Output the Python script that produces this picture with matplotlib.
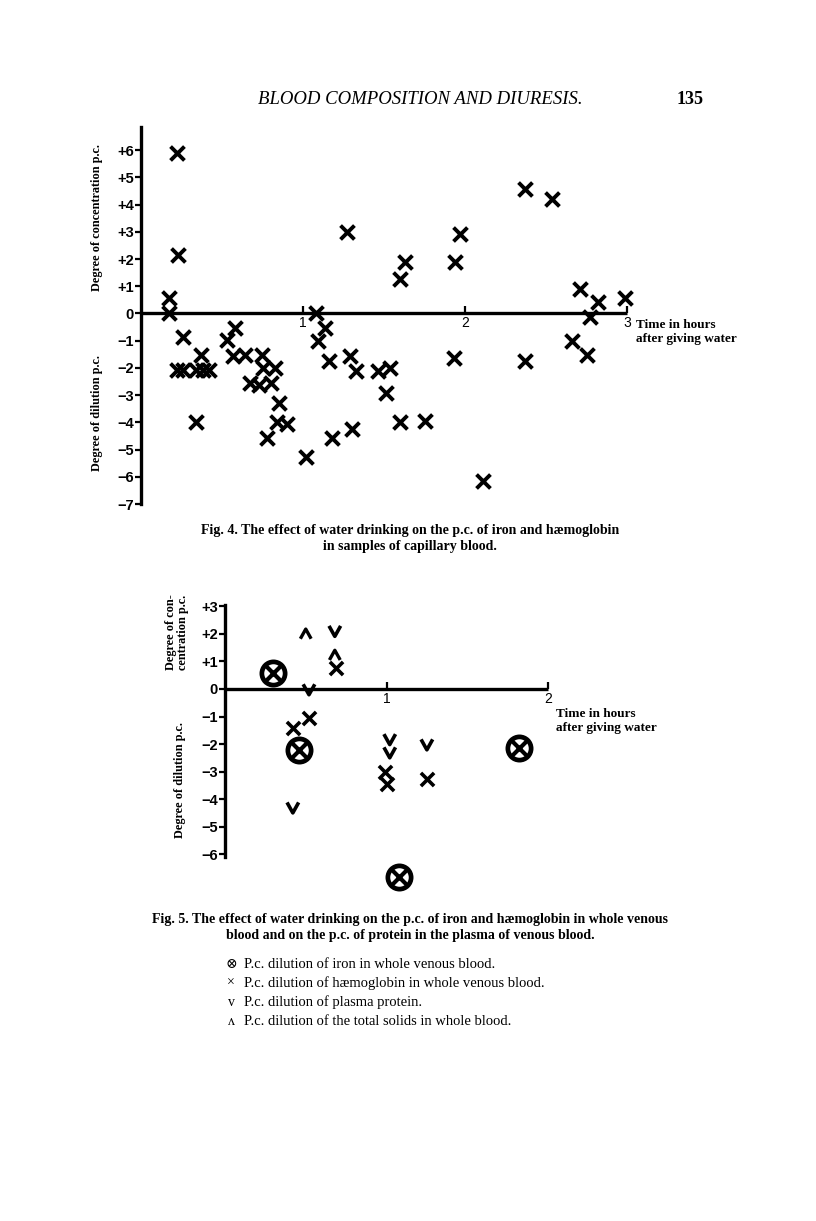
import matplotlib
matplotlib.use("Agg")
import matplotlib.pyplot as plt
from matplotlib.path import Path

# ---------------- Fig. 4 data (hours, p.c.) ----------------
fig4_hours = [0.22, 0.23, 0.17, 0.175, 0.26,
              0.22, 0.26, 0.34, 0.38, 0.42, 0.37, 0.34,
              0.53, 0.58, 0.57, 0.64, 0.67, 0.73, 0.745, 0.755, 0.80, 0.83,
              0.85, 0.84, 0.90, 0.78, 1.02,
              1.08, 1.095, 1.135, 1.16, 1.18,
              1.27, 1.29, 1.33, 1.30, 1.46, 1.51, 1.54, 1.60, 1.63, 1.60, 1.75,
              1.97, 1.94, 1.93, 2.11, 2.37, 2.54, 2.37,
              2.71, 2.82, 2.99, 2.77, 2.66, 2.75]
fig4_pc = [5.9, 2.15, 0.55, 0.0, -0.85,
           -2.07, -2.07, -2.07, -2.07, -2.07, -1.52, -4.0,
           -0.97, -0.55, -1.58, -1.52, -2.55, -2.61, -1.52, -2.0, -2.55, -2.0,
           -3.28, -4.0, -4.07, -4.56, -5.29,
           0.0, -1.03, -0.55, -1.76, -4.56,
           2.98, -1.58, -2.13, -4.26, -2.13, -2.92, -2.0, 1.28, 1.89, -4.0, -3.95,
           2.92, 1.89, -1.64, -6.14, 4.56, 4.2, -1.76,
           0.91, 0.43, 0.55, -0.12, -1.03, -1.52]

fig4_yticks = [6, 5, 4, 3, 2, 1, 0, -1, -2, -3, -4, -5, -6, -7]
fig4_ylabels = ["+6", "+5", "+4", "+3", "+2", "+1", "0",
                "\u22121", "\u22122", "\u22123", "\u22124", "\u22125", "\u22126", "\u22127"]
fig4_xticks = [1, 2, 3]
fig4_xlabels = ["1", "2", "3"]

# ---------------- Fig. 5 data ----------------
iron_hours = [0.30, 0.46, 1.08, 1.82]
iron_pc = [0.57, -2.22, -6.82, -2.16]
haem_hours = [0.42, 0.52, 0.69, 0.99, 1.00, 1.25]
haem_pc = [-1.43, -1.07, 0.75, -3.03, -3.45, -3.27]
protein_hours = [0.68, 0.52, 0.42, 1.02, 1.02, 1.25]
protein_pc = [2.08, -0.04, -4.33, -1.85, -2.33, -2.04]
solids_hours = [0.50, 0.68]
solids_pc = [2.02, 1.25]

fig5_yticks = [3, 2, 1, 0, -1, -2, -3, -4, -5, -6]
fig5_ylabels = ["+3", "+2", "+1", "0", "\u22121", "\u22122", "\u22123", "\u22124", "\u22125", "\u22126"]
fig5_xticks = [1, 2]
fig5_xlabels = ["1", "2"]

legend_symbols = ["\u2297", "\u00d7", "v", "\u028c"]
legend_texts = ["P.c. dilution of iron in whole venous blood.",
                "P.c. dilution of h\u00e6moglobin in whole venous blood.",
                "P.c. dilution of plasma protein.",
                "P.c. dilution of the total solids in whole blood."]

W, H = 816, 1221
fig = plt.figure(figsize=(W / 100, H / 100), dpi=100)
fig.patch.set_facecolor("white")

SERIF = ["Liberation Serif", "DejaVu Serif", "DejaVu Sans"]
SANS = ["Liberation Sans", "DejaVu Sans"]


def fx(x):
    return x / W


def fy(y):
    return 1 - y / H


def rect(x0, y0, x1, y1):
    # pixel box (top-left origin) -> figure fraction
    return [fx(x0), fy(y1), fx(x1) - fx(x0), fy(y0) - fy(y1)]


def style_axes(ax, xmax, ylo, yhi, yticks, ylabels, xticks, xlabels):
    ax.set_xlim(0, xmax)
    ax.set_ylim(ylo, yhi)
    for s in ["top", "right"]:
        ax.spines[s].set_visible(False)
    ax.spines["left"].set_linewidth(2.4)
    ax.spines["bottom"].set_linewidth(2.4)
    ax.spines["bottom"].set_position(("data", 0))
    ax.spines["bottom"].set_capstyle("butt")
    ax.set_yticks(yticks)
    ax.set_yticklabels(ylabels, fontfamily=SANS, fontweight="bold", fontsize=10.5)
    ax.tick_params(axis="y", direction="out", length=4, width=1.6, pad=1)
    ax.set_xticks(xticks)
    ax.set_xticklabels(xlabels, fontfamily=SANS, fontsize=10)
    ax.tick_params(axis="x", direction="in", length=5, width=1.6, pad=2)
    ax.patch.set_alpha(0)


# ---------------- header ----------------
fig.text(fx(420), fy(100), "BLOOD COMPOSITION AND DIURESIS.", ha="center", va="center",
         fontfamily=SERIF, fontstyle="italic", fontsize=13.5)
fig.text(fx(690), fy(100), "135", ha="center", va="center",
         fontfamily=SERIF, fontweight="bold", fontsize=13)

# ---------------- Fig. 4 ----------------
ax4 = fig.add_axes(rect(141, 127, 627, 504))
style_axes(ax4, 3, -7, 6.85, fig4_yticks, fig4_ylabels, fig4_xticks, fig4_xlabels)
ax4.scatter(fig4_hours, fig4_pc, marker="x", s=100, linewidths=2.8, color="black",
            clip_on=False, zorder=3)

fig.text(fx(97), fy(218), "Degree of concentration p.c.", rotation=90, ha="center", va="center",
         fontfamily=SERIF, fontweight="bold", fontsize=8.8)
fig.text(fx(97), fy(413), "Degree of dilution p.c.", rotation=90, ha="center", va="center",
         fontfamily=SERIF, fontweight="bold", fontsize=8.8)
fig.text(fx(636), fy(332), "Time in hours\nafter giving water", ha="left", va="center",
         fontfamily=SERIF, fontweight="bold", fontsize=9.5, linespacing=1.25)
fig.text(fx(410), fy(539), "Fig. 4. The effect of water drinking on the p.c. of iron and h\u00e6moglobin\n"
         "in samples of capillary blood.", ha="center", va="center",
         fontfamily=SERIF, fontweight="bold", fontsize=10, linespacing=1.3)

# ---------------- Fig. 5 ----------------
ax5 = fig.add_axes(rect(225, 605, 548, 857))
style_axes(ax5, 2, -6.1, 3.05, fig5_yticks, fig5_ylabels, fig5_xticks, fig5_xlabels)

chev_down = Path([(-1, 1), (0, -0.8), (1, 1)], [Path.MOVETO, Path.LINETO, Path.LINETO])
chev_up = Path([(-1, -1), (0, 0.8), (1, -1)], [Path.MOVETO, Path.LINETO, Path.LINETO])

ax5.scatter(iron_hours, iron_pc, marker="o", s=280, facecolors="white", edgecolors="black",
            linewidths=3.4, clip_on=False, zorder=3)
ax5.scatter(iron_hours, iron_pc, marker="x", s=100, color="black", linewidths=3.0,
            clip_on=False, zorder=4)
ax5.scatter(haem_hours, haem_pc, marker="x", s=90, color="black", linewidths=2.6,
            clip_on=False, zorder=3)
ax5.scatter(protein_hours, protein_pc, marker=chev_down, s=70, facecolors="none",
            edgecolors="black", linewidths=2.6, clip_on=False, zorder=3)
ax5.scatter(solids_hours, solids_pc, marker=chev_up, s=60, facecolors="none",
            edgecolors="black", linewidths=2.4, clip_on=False, zorder=3)

fig.text(fx(177), fy(632), "Degree of con-\ncentration p.c.", rotation=90, ha="center", va="center",
         fontfamily=SERIF, fontweight="bold", fontsize=8.8, linespacing=1.0)
fig.text(fx(180), fy(780), "Degree of dilution p.c.", rotation=90, ha="center", va="center",
         fontfamily=SERIF, fontweight="bold", fontsize=8.8)
fig.text(fx(556), fy(721), "Time in hours\nafter giving water", ha="left", va="center",
         fontfamily=SERIF, fontweight="bold", fontsize=9.5, linespacing=1.25)

fig.text(fx(410), fy(927), "Fig. 5. The effect of water drinking on the p.c. of iron and h\u00e6moglobin in whole venous\n"
         "blood and on the p.c. of protein in the plasma of venous blood.", ha="center", va="center",
         fontfamily=SERIF, fontweight="bold", fontsize=10, linespacing=1.3)

for i, (sym, txt) in enumerate(zip(legend_symbols, legend_texts)):
    yy = 964 + i * 19.3
    fig.text(fx(231), fy(yy), sym, ha="center", va="center", fontfamily=SERIF + ["DejaVu Sans"],
             fontsize=10)
    fig.text(fx(244), fy(yy), txt, ha="left", va="center", fontfamily=SERIF, fontsize=10.5)

fig.savefig("out.png", dpi=100)
